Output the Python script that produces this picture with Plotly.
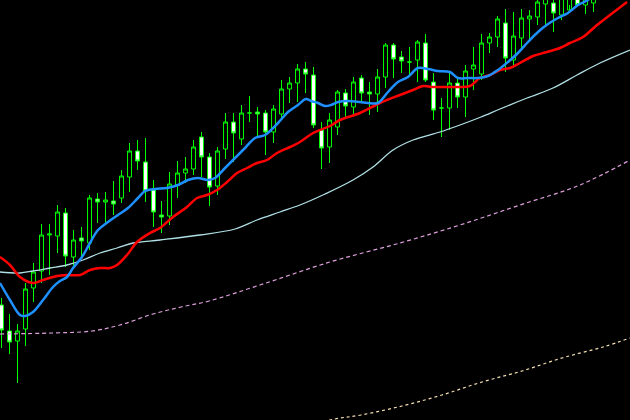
import plotly.graph_objects as go

# Bar index for each candle
bars = list(range(78))

opens = [115, 89, 79, 91, 132, 149, 185, 184, 207, 163, 182, 177, 221, 218, 219, 222, 243, 269, 258, 230,
         205, 204, 235, 247, 251, 283, 263, 234, 271, 298, 281, 307, 308, 307, 288, 306, 331, 337, 351, 345,
         290, 273, 293, 327, 313, 342, 328, 326, 343, 375, 363, 358, 360, 377, 338, 312, 312, 337, 323, 351,
         346, 377, 383, 397, 360, 382, 401, 403, 416, 417, 405, 410, 422, 415, 417, 428, 434, 431]
highs = [122, 106, 96, 137, 157, 196, 196, 215, 212, 190, 193, 225, 227, 228, 239, 250, 277, 280, 282, 240,
         219, 248, 259, 263, 280, 288, 267, 273, 307, 307, 315, 324, 313, 310, 315, 340, 343, 356, 358, 353,
         298, 307, 330, 331, 343, 345, 338, 351, 377, 377, 369, 373, 380, 386, 347, 322, 348, 342, 355, 373,
         386, 387, 404, 411, 408, 411, 410, 425, 430, 425, 430, 432, 430, 428, 428, 440, 445, 446]
lows = [72, 66, 37, 74, 118, 137, 145, 167, 153, 153, 163, 170, 197, 197, 205, 217, 228, 250, 218, 193,
        187, 195, 222, 237, 245, 243, 214, 225, 261, 258, 275, 298, 283, 265, 277, 300, 317, 318, 327, 292,
        251, 257, 285, 302, 305, 317, 305, 308, 332, 342, 347, 345, 338, 338, 300, 283, 290, 312, 303, 330,
        340, 367, 373, 348, 352, 371, 381, 395, 393, 388, 400, 415, 417, 406, 408, 423, 427, 426]
closes = [90, 78, 89, 131, 148, 185, 186, 208, 164, 180, 179, 222, 218, 220, 216, 244, 269, 259, 229, 208,
          203, 236, 247, 251, 273, 263, 233, 269, 298, 287, 307, 307, 306, 288, 311, 331, 337, 351, 346, 295,
          272, 300, 328, 314, 338, 327, 326, 343, 375, 361, 359, 358, 378, 340, 310, 312, 337, 323, 349, 355,
          377, 383, 401, 362, 384, 402, 404, 418, 423, 407, 425, 425, 415, 423, 422, 434, 430, 440]

# Fast moving average (blue)
fast_x = [-0.19, 1.06, 2.31, 2.94, 3.94, 5.19, 6.44, 7.31, 8.19, 8.94, 10.06, 11.06, 12.06, 13.31, 14.56,
          15.81, 17.06, 17.94, 19.19, 20.69, 22.06, 23.31, 24.56, 25.81, 26.69, 27.94, 29.19, 30.44, 31.69,
          32.94, 34.56, 35.81, 37.06, 38.06, 38.69, 39.56, 40.44, 41.19, 42.06, 43.31, 44.81, 45.81, 47.06,
          48.31, 49.56, 50.81, 52.06, 53.31, 54.56, 56.06, 57.06, 58.31, 59.56, 60.81, 62.06, 63.31, 64.56,
          65.81, 67.06, 68.31, 69.56, 70.81, 72.06, 73.06, 74.81, 78.56]
fast_v = [137, 120, 105, 104, 108, 120, 133, 139, 143, 152, 163, 177, 190, 198, 205,
          212, 222, 229, 231, 232, 235, 240, 242, 240, 242, 252, 262, 272, 282,
          285, 297, 308, 315, 321, 319, 317, 314, 315, 318, 319, 318, 317, 317,
          328, 338, 343, 352, 351, 349, 348, 342, 342, 342, 344, 350, 358, 367,
          378, 388, 396, 402, 407, 415, 419, 428, 445]

# Medium moving average (red)
mid_x = [-0.19, 1.06, 2.31, 3.94, 5.19, 6.94, 8.19, 9.81, 11.06, 12.31, 13.56, 14.44, 15.69, 16.94, 18.56,
         19.81, 21.44, 23.19, 24.44, 25.69, 26.94, 28.19, 29.44, 30.69, 31.94, 33.19, 34.44, 36.06, 37.31,
         38.94, 41.06, 42.31, 44.81, 47.31, 49.81, 51.44, 52.69, 53.94, 55.69, 57.31, 58.56, 59.81, 61.06,
         62.31, 63.56, 64.81, 66.44, 68.19, 69.81, 71.06, 72.69, 74.44, 76.06, 78.19]
mid_v = [163, 155, 143, 137, 140, 144, 145, 145, 150, 152, 152, 155, 165, 178, 187,
         192, 203, 213, 222, 225, 230, 238, 247, 252, 257, 260, 267, 273, 278,
         287, 294, 300, 307, 317, 325, 330, 334, 333, 333, 333, 334, 342, 345,
         350, 352, 357, 364, 368, 372, 377, 383, 395, 405, 418]

# Slow moving average (light blue)
slow_x = [-0.19, 2.31, 3.94, 6.06, 8.19, 10.19, 12.31, 14.44, 16.44, 19.81, 24.81, 29.19, 31.94, 34.81,
          37.31, 40.44, 43.94, 46.44, 48.94, 51.44, 54.81, 57.31, 59.94, 62.31, 65.69, 68.94, 71.94, 74.81,
          78.56]
slow_v = [148, 147, 149, 152, 155, 160, 167, 172, 177, 180, 185, 191, 200, 208,
          215, 226, 240, 253, 270, 280, 288, 295, 303, 311, 322, 332, 345, 357,
          370]

# Upper dashed band (plum)
band1_x = [-0.19, 6.31, 11.31, 14.81, 18.94, 22.44, 25.94, 32.31, 41.06, 49.81, 57.31, 64.81, 72.31, 78.56]
band1_v = [86, 87, 89, 95, 106, 113, 119, 135, 158, 177, 195, 215, 235, 260]

# Lower dashed band (wheat)
band2_x = [37.31, 41.69, 44.94, 50.06, 55.06, 60.06, 65.06, 70.06, 75.19, 78.56]
band2_v = [-8, 1, 5, 14, 25, 38, 49, 62, 73, 82]

fig = go.Figure()
fig.add_trace(go.Scatter(x=band2_x, y=band2_v, mode="lines", line=dict(color="#f5deb3", width=1.2, dash="3px,3px"),
                         line_shape="spline", showlegend=False, hoverinfo="skip"))
fig.add_trace(go.Scatter(x=band1_x, y=band1_v, mode="lines", line=dict(color="#dda0dd", width=1.2, dash="4px,3px"),
                         line_shape="spline", showlegend=False, hoverinfo="skip"))
fig.add_trace(go.Scatter(x=slow_x, y=slow_v, mode="lines", line=dict(color="#b0e0e6", width=1.3),
                         line_shape="spline", showlegend=False, hoverinfo="skip"))
fig.add_trace(go.Candlestick(
    x=bars, open=opens, high=highs, low=lows, close=closes,
    increasing=dict(line=dict(color="#00ff00", width=1), fillcolor="#000000"),
    decreasing=dict(line=dict(color="#00ff00", width=1), fillcolor="#ffffff"),
    whiskerwidth=0, showlegend=False))
fig.add_trace(go.Scatter(x=mid_x, y=mid_v, mode="lines", line=dict(color="#ff0000", width=2.5),
                         line_shape="spline", showlegend=False, hoverinfo="skip"))
fig.add_trace(go.Scatter(x=fast_x, y=fast_v, mode="lines", line=dict(color="#1e90ff", width=2.5),
                         line_shape="spline", showlegend=False, hoverinfo="skip"))

fig.update_layout(
    width=630, height=420,
    margin=dict(l=0, r=0, t=0, b=0),
    paper_bgcolor="#000000", plot_bgcolor="#000000",
    xaxis=dict(visible=False, range=[-0.1875, 78.5625], rangeslider=dict(visible=False)),
    yaxis=dict(visible=False, range=[0, 420]),
    showlegend=False,
)

fig.write_html("out.html", config={"displayModeBar": False},
               post_script="document.body.style.margin='0';document.body.style.background='#000';")
